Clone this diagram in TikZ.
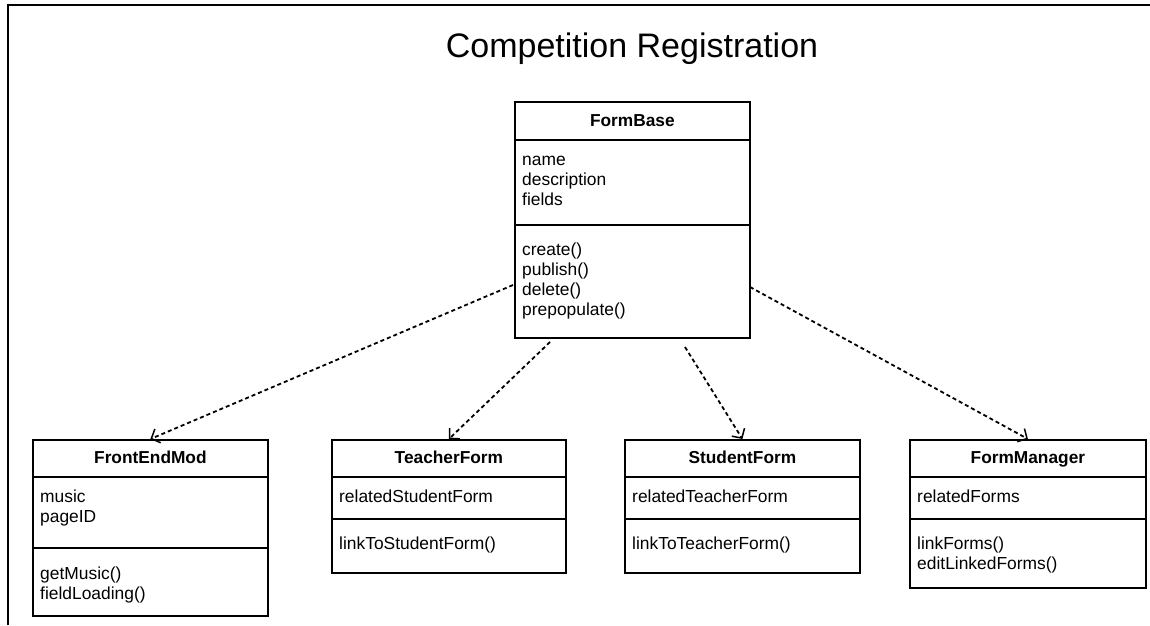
\documentclass[tikz,border=0pt]{standalone}
\usepackage{fontspec}
\setmainfont{Liberation Sans}
\usetikzlibrary{arrows.meta,calc}
\tikzset{
  cls/.style={draw, line width=1.8pt, inner sep=0pt, anchor=north west},
  divider/.style={line width=1.8pt},
  hdr/.style={anchor=base, inner sep=0pt, font=\fontsize{17.3}{20}\selectfont\bfseries},
  body/.style={anchor=base west, inner sep=0pt, align=left, font=\fontsize{17.4}{20}\selectfont},
  dep/.style={line width=1.8pt, dash pattern=on 4pt off 3pt, -{Straight Barb[length=7pt,width=15pt,line width=1.5pt]}},
  frame/.style={line width=2.2pt},
  ttl/.style={anchor=base, inner sep=0pt, font=\fontsize{34}{40}\selectfont}
}
\begin{document}
\begin{tikzpicture}[x=1pt,y=-1pt]
\useasboundingbox (0,0) rectangle (1150,625);
% outer frame
\draw[frame] (8,625) -- (8,5) -- (1150,5);
% title
\node[ttl] (title) at (632,57) {Competition Registration};

% FormBase (multi-line nodes: base anchor = baseline of last line)
\node[cls, minimum width=235pt, minimum height=236pt] (fb) at (514,101) {};
\draw[divider] (fb.west |- 0,140) -- (fb.east |- 0,140);
\draw[divider] (fb.west |- 0,225) -- (fb.east |- 0,225);
\node[hdr] (fbh) at (fb.north |- 0,126) {FormBase};
\node[body] (fba) at (522,205) {name\\description\\fields};
\node[body] (fbm) at (522,315) {create()\\publish()\\delete()\\prepopulate()};

% FrontEndMod
\node[cls, minimum width=235pt, minimum height=176pt] (fem) at (32,439) {};
\draw[divider] (fem.west |- 0,477) -- (fem.east |- 0,477);
\draw[divider] (fem.west |- 0,548) -- (fem.east |- 0,548);
\node[hdr] (femh) at (fem.north |- 0,463) {FrontEndMod};
\node[body] (fema) at (40,522) {music\\pageID};
\node[body] (femm) at (40,599) {getMusic()\\fieldLoading()};

% TeacherForm
\node[cls, minimum width=234pt, minimum height=133pt] (tf) at (331,439) {};
\draw[divider] (tf.west |- 0,477) -- (tf.east |- 0,477);
\draw[divider] (tf.west |- 0,519) -- (tf.east |- 0,519);
\node[hdr] (tfh) at (tf.north |- 0,463) {TeacherForm};
\node[body] (tfa) at (339,502) {relatedStudentForm};
\node[body] (tfm) at (339,549) {linkToStudentForm()};

% StudentForm
\node[cls, minimum width=235pt, minimum height=133pt] (sf) at (624,439) {};
\draw[divider] (sf.west |- 0,477) -- (sf.east |- 0,477);
\draw[divider] (sf.west |- 0,519) -- (sf.east |- 0,519);
\node[hdr] (sfh) at (sf.north |- 0,463) {StudentForm};
\node[body] (sfa) at (632,502) {relatedTeacherForm};
\node[body] (sfm) at (632,549) {linkToTeacherForm()};

% FormManager
\node[cls, minimum width=236pt, minimum height=148pt] (fm) at (909,439) {};
\draw[divider] (fm.west |- 0,477) -- (fm.east |- 0,477);
\draw[divider] (fm.west |- 0,519) -- (fm.east |- 0,519);
\node[hdr] (fmh) at (fm.north |- 0,463) {FormManager};
\node[body] (fma) at (917,502) {relatedForms};
\node[body] (fmm) at (917,569) {linkForms()\\editLinkedForms()};

% connector start points
\coordinate (s1) at (513,285);
\coordinate (s2) at (550,342);
\coordinate (s3) at (685,347);
\coordinate (s4) at (750,287);

\draw[dep] (s1) -- (fem.north);
\draw[dep] (s2) -- (tf.north);
\draw[dep] (s3) -- (sf.north);
\draw[dep] (s4) -- (fm.north);
\end{tikzpicture}
\end{document}
